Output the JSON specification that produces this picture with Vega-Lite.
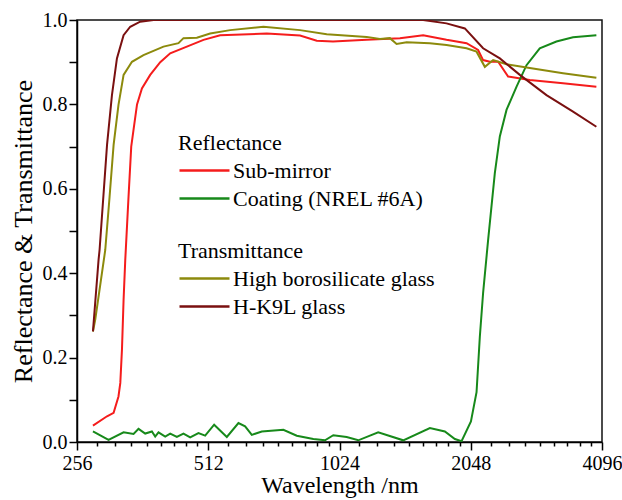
{
  "$schema": "https://vega.github.io/schema/vega-lite/v6.json",
  "width": 525,
  "height": 422,
  "autosize": "none",
  "padding": {"left": 77, "top": 20, "right": 20, "bottom": 58},
  "background": "white",
  "config": {
    "font": "Liberation Serif",
    "view": {"stroke": "#111", "strokeWidth": 1.5},
    "axis": {
      "domainColor": "#000", "domainWidth": 1.5, "tickColor": "#000", "tickWidth": 1.5,
      "labelColor": "#000", "titleColor": "#000", "labelFont": "Liberation Serif", "titleFont": "Liberation Serif",
      "titleFontWeight": "normal", "grid": false, "labelFlush": false, "labelOverlap": false
    },
    "legend": {
      "orient": "none", "padding": 0, "labelFont": "Liberation Serif", "titleFont": "Liberation Serif",
      "labelFontSize": 22, "titleFontSize": 22, "titleFontWeight": "normal", "labelColor": "#000", "titleColor": "#000",
      "symbolType": "M-1,0H4", "symbolSize": 400, "symbolStrokeWidth": 2.5, "labelOffset": 32, "rowPadding": 5, "titlePadding": 4,
      "labelLimit": 0, "titleLimit": 0
    }
  },
  "datasets": {
    "refl": [
      {"s": "Sub-mirror", "wl": 278.5, "v": 0.039}, {"s": "Sub-mirror", "wl": 300, "v": 0.061}, {"s": "Sub-mirror", "wl": 310.6, "v": 0.069},
      {"s": "Sub-mirror", "wl": 318.7, "v": 0.108}, {"s": "Sub-mirror", "wl": 321.8, "v": 0.14}, {"s": "Sub-mirror", "wl": 324.6, "v": 0.219},
      {"s": "Sub-mirror", "wl": 327.4, "v": 0.337}, {"s": "Sub-mirror", "wl": 330.3, "v": 0.431}, {"s": "Sub-mirror", "wl": 336.1, "v": 0.582},
      {"s": "Sub-mirror", "wl": 340.9, "v": 0.70}, {"s": "Sub-mirror", "wl": 345.1, "v": 0.74}, {"s": "Sub-mirror", "wl": 351.5, "v": 0.80},
      {"s": "Sub-mirror", "wl": 360.7, "v": 0.838}, {"s": "Sub-mirror", "wl": 376.8, "v": 0.87}, {"s": "Sub-mirror", "wl": 397.3, "v": 0.90},
      {"s": "Sub-mirror", "wl": 418.8, "v": 0.921}, {"s": "Sub-mirror", "wl": 457.3, "v": 0.937}, {"s": "Sub-mirror", "wl": 499.3, "v": 0.953},
      {"s": "Sub-mirror", "wl": 545.2, "v": 0.964}, {"s": "Sub-mirror", "wl": 697.5, "v": 0.968}, {"s": "Sub-mirror", "wl": 831.4, "v": 0.963},
      {"s": "Sub-mirror", "wl": 908, "v": 0.951}, {"s": "Sub-mirror", "wl": 989.5, "v": 0.949}, {"s": "Sub-mirror", "wl": 1182, "v": 0.953},
      {"s": "Sub-mirror", "wl": 1409, "v": 0.957}, {"s": "Sub-mirror", "wl": 1593, "v": 0.964}, {"s": "Sub-mirror", "wl": 1802, "v": 0.953},
      {"s": "Sub-mirror", "wl": 2003, "v": 0.945}, {"s": "Sub-mirror", "wl": 2129, "v": 0.929}, {"s": "Sub-mirror", "wl": 2186, "v": 0.905},
      {"s": "Sub-mirror", "wl": 2265, "v": 0.901}, {"s": "Sub-mirror", "wl": 2367, "v": 0.901}, {"s": "Sub-mirror", "wl": 2495, "v": 0.866},
      {"s": "Sub-mirror", "wl": 2797, "v": 0.858}, {"s": "Sub-mirror", "wl": 3334, "v": 0.850}, {"s": "Sub-mirror", "wl": 3976, "v": 0.842},
      {"s": "Coating (NREL #6A)", "wl": 278.5, "v": 0.025}, {"s": "Coating (NREL #6A)", "wl": 302.4, "v": 0.005}, {"s": "Coating (NREL #6A)", "wl": 327.4, "v": 0.023},
      {"s": "Coating (NREL #6A)", "wl": 345.1, "v": 0.019}, {"s": "Coating (NREL #6A)", "wl": 354.3, "v": 0.031}, {"s": "Coating (NREL #6A)", "wl": 367, "v": 0.020},
      {"s": "Coating (NREL #6A)", "wl": 380.2, "v": 0.025}, {"s": "Coating (NREL #6A)", "wl": 386.9, "v": 0.013}, {"s": "Coating (NREL #6A)", "wl": 393.7, "v": 0.023},
      {"s": "Coating (NREL #6A)", "wl": 407.9, "v": 0.013}, {"s": "Coating (NREL #6A)", "wl": 418.8, "v": 0.020}, {"s": "Coating (NREL #6A)", "wl": 433.8, "v": 0.012},
      {"s": "Coating (NREL #6A)", "wl": 449.2, "v": 0.020}, {"s": "Coating (NREL #6A)", "wl": 465.4, "v": 0.011}, {"s": "Coating (NREL #6A)", "wl": 486.2, "v": 0.021},
      {"s": "Coating (NREL #6A)", "wl": 503.7, "v": 0.015}, {"s": "Coating (NREL #6A)", "wl": 528.2, "v": 0.041}, {"s": "Coating (NREL #6A)", "wl": 564.8, "v": 0.012},
      {"s": "Coating (NREL #6A)", "wl": 600.5, "v": 0.045}, {"s": "Coating (NREL #6A)", "wl": 622, "v": 0.037}, {"s": "Coating (NREL #6A)", "wl": 644.4, "v": 0.017},
      {"s": "Coating (NREL #6A)", "wl": 679.3, "v": 0.025}, {"s": "Coating (NREL #6A)", "wl": 761.3, "v": 0.029}, {"s": "Coating (NREL #6A)", "wl": 817.1, "v": 0.015},
      {"s": "Coating (NREL #6A)", "wl": 891.9, "v": 0.007}, {"s": "Coating (NREL #6A)", "wl": 948.6, "v": 0.004}, {"s": "Coating (NREL #6A)", "wl": 991, "v": 0.016},
      {"s": "Coating (NREL #6A)", "wl": 1063.5, "v": 0.012}, {"s": "Coating (NREL #6A)", "wl": 1130.8, "v": 0.004}, {"s": "Coating (NREL #6A)", "wl": 1256.3, "v": 0.023},
      {"s": "Coating (NREL #6A)", "wl": 1433.8, "v": 0.004}, {"s": "Coating (NREL #6A)", "wl": 1650.5, "v": 0.033}, {"s": "Coating (NREL #6A)", "wl": 1786.4, "v": 0.025},
      {"s": "Coating (NREL #6A)", "wl": 1883.3, "v": 0.007}, {"s": "Coating (NREL #6A)", "wl": 1950.9, "v": 0.002}, {"s": "Coating (NREL #6A)", "wl": 2050, "v": 0.049},
      {"s": "Coating (NREL #6A)", "wl": 2111.6, "v": 0.118}, {"s": "Coating (NREL #6A)", "wl": 2148.8, "v": 0.25}, {"s": "Coating (NREL #6A)", "wl": 2186, "v": 0.353},
      {"s": "Coating (NREL #6A)", "wl": 2244.9, "v": 0.479}, {"s": "Coating (NREL #6A)", "wl": 2325.7, "v": 0.637}, {"s": "Coating (NREL #6A)", "wl": 2387.9, "v": 0.724},
      {"s": "Coating (NREL #6A)", "wl": 2473.8, "v": 0.787}, {"s": "Coating (NREL #6A)", "wl": 2608.6, "v": 0.842}, {"s": "Coating (NREL #6A)", "wl": 2749.2, "v": 0.893},
      {"s": "Coating (NREL #6A)", "wl": 2948.6, "v": 0.933}, {"s": "Coating (NREL #6A)", "wl": 3220, "v": 0.949}, {"s": "Coating (NREL #6A)", "wl": 3515, "v": 0.959},
      {"s": "Coating (NREL #6A)", "wl": 3976, "v": 0.964}
    ],
    "trans": [
      {"s": "High borosilicate glass", "wl": 278.5, "v": 0.262}, {"s": "High borosilicate glass", "wl": 281.9, "v": 0.29}, {"s": "High borosilicate glass", "wl": 297.2, "v": 0.455},
      {"s": "High borosilicate glass", "wl": 304, "v": 0.58}, {"s": "High borosilicate glass", "wl": 310.6, "v": 0.704}, {"s": "High borosilicate glass", "wl": 318.7, "v": 0.799},
      {"s": "High borosilicate glass", "wl": 327.4, "v": 0.870}, {"s": "High borosilicate glass", "wl": 342.2, "v": 0.901}, {"s": "High borosilicate glass", "wl": 363.7, "v": 0.917},
      {"s": "High borosilicate glass", "wl": 404.2, "v": 0.937}, {"s": "High borosilicate glass", "wl": 437.5, "v": 0.945}, {"s": "High borosilicate glass", "wl": 449.2, "v": 0.957},
      {"s": "High borosilicate glass", "wl": 482.1, "v": 0.958}, {"s": "High borosilicate glass", "wl": 517.1, "v": 0.968}, {"s": "High borosilicate glass", "wl": 574.8, "v": 0.976},
      {"s": "High borosilicate glass", "wl": 685.1, "v": 0.984}, {"s": "High borosilicate glass", "wl": 831.4, "v": 0.976}, {"s": "High borosilicate glass", "wl": 957.2, "v": 0.966},
      {"s": "High borosilicate glass", "wl": 1182, "v": 0.96}, {"s": "High borosilicate glass", "wl": 1267.6, "v": 0.955}, {"s": "High borosilicate glass", "wl": 1336.3, "v": 0.957},
      {"s": "High borosilicate glass", "wl": 1384.4, "v": 0.943}, {"s": "High borosilicate glass", "wl": 1459.8, "v": 0.947}, {"s": "High borosilicate glass", "wl": 1650.5, "v": 0.945},
      {"s": "High borosilicate glass", "wl": 1802, "v": 0.941}, {"s": "High borosilicate glass", "wl": 2003, "v": 0.933}, {"s": "High borosilicate glass", "wl": 2111.6, "v": 0.925},
      {"s": "High borosilicate glass", "wl": 2206.2, "v": 0.889}, {"s": "High borosilicate glass", "wl": 2305, "v": 0.905}, {"s": "High borosilicate glass", "wl": 2473.8, "v": 0.895},
      {"s": "High borosilicate glass", "wl": 2797, "v": 0.886}, {"s": "High borosilicate glass", "wl": 3334, "v": 0.874}, {"s": "High borosilicate glass", "wl": 3976, "v": 0.863},
      {"s": "H-K9L glass", "wl": 278.5, "v": 0.262}, {"s": "H-K9L glass", "wl": 286.9, "v": 0.432}, {"s": "H-K9L glass", "wl": 288.4, "v": 0.455},
      {"s": "H-K9L glass", "wl": 300, "v": 0.704}, {"s": "H-K9L glass", "wl": 302.4, "v": 0.74}, {"s": "H-K9L glass", "wl": 307.9, "v": 0.822},
      {"s": "H-K9L glass", "wl": 316.1, "v": 0.909}, {"s": "H-K9L glass", "wl": 327.4, "v": 0.964}, {"s": "H-K9L glass", "wl": 339.1, "v": 0.984},
      {"s": "H-K9L glass", "wl": 357.4, "v": 0.996}, {"s": "H-K9L glass", "wl": 383.5, "v": 1.0}, {"s": "H-K9L glass", "wl": 1593, "v": 1.0},
      {"s": "H-K9L glass", "wl": 1802, "v": 0.992}, {"s": "H-K9L glass", "wl": 1985, "v": 0.98}, {"s": "H-K9L glass", "wl": 2186, "v": 0.933},
      {"s": "H-K9L glass", "wl": 2388, "v": 0.909}, {"s": "H-K9L glass", "wl": 2654, "v": 0.870}, {"s": "H-K9L glass", "wl": 3055, "v": 0.822},
      {"s": "H-K9L glass", "wl": 3515, "v": 0.783}, {"s": "H-K9L glass", "wl": 3976, "v": 0.747}
    ]
  },
  "encoding": {
    "x": {
      "field": "wl", "type": "quantitative",
      "scale": {"type": "log", "base": 2, "domain": [256, 4096], "nice": false},
      "axis": {
        "title": "Wavelength /nm", "titleFontSize": 24, "titlePadding": 0,
        "labelFontSize": 20, "labelPadding": 3, "format": "d",
        "values": [256, 284.44, 312.89, 341.33, 369.78, 398.22, 426.67, 455.11, 483.56, 512, 568.89, 625.78, 682.67, 739.56, 796.44, 853.33, 910.22, 967.11, 1024, 1137.78, 1251.56, 1365.33, 1479.11, 1592.89, 1706.67, 1820.44, 1934.22, 2048, 2275.56, 2503.11, 2730.67, 2958.22, 3185.78, 3413.33, 3640.89, 3868.44, 4096],
        "labelExpr": "indexof([256,512,1024,2048,4096], datum.value) >= 0 ? datum.label : ''",
        "tickSize": {"condition": {"test": "indexof([256,512,1024,2048,4096], datum.value) >= 0", "value": 8}, "value": 4}
      }
    },
    "y": {
      "field": "v", "type": "quantitative",
      "scale": {"domain": [0, 1], "nice": false, "zero": false},
      "axis": {
        "title": "Reflectance & Transmittance", "titleFontSize": 26, "titlePadding": 6,
        "labelFontSize": 20, "labelPadding": 2, "format": ".1f",
        "values": [0, 0.1, 0.2, 0.3, 0.4, 0.5, 0.6, 0.7, 0.8, 0.9, 1.0],
        "labelExpr": "round(datum.value * 10) % 2 == 0 ? datum.label : ''",
        "tickSize": 8
      }
    }
  },
  "layer": [
    {
      "data": {"name": "refl"},
      "mark": {"type": "line", "strokeWidth": 2, "clip": true},
      "encoding": {
        "color": {
          "field": "s", "type": "nominal",
          "scale": {"domain": ["Sub-mirror", "Coating (NREL #6A)"], "range": ["#f51c1c", "#17891a"]},
          "legend": {"title": "Reflectance", "legendX": 101, "legendY": 113}
        }
      }
    },
    {
      "data": {"name": "trans"},
      "mark": {"type": "line", "strokeWidth": 2, "clip": true},
      "encoding": {
        "color": {
          "field": "s", "type": "nominal",
          "scale": {"domain": ["High borosilicate glass", "H-K9L glass"], "range": ["#8c8a0c", "#7a1010"]},
          "legend": {"title": "Transmittance", "legendX": 101, "legendY": 221}
        }
      }
    }
  ],
  "resolve": {"scale": {"color": "independent"}}
}
